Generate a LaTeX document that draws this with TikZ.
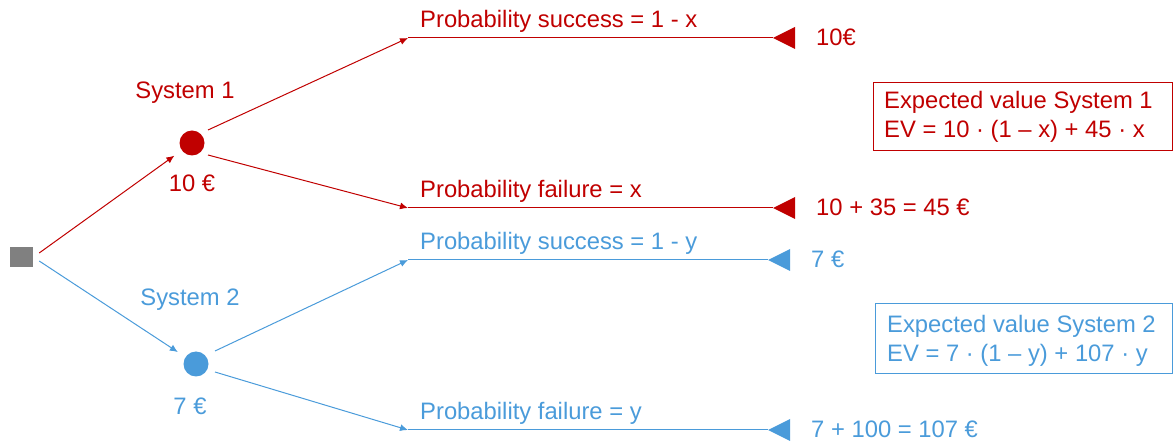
\documentclass[tikz,border=0pt]{standalone}
\usepackage{fontspec}
\setmainfont{Liberation Sans}
\usetikzlibrary{arrows.meta}
\definecolor{dred}{HTML}{C00000}
\definecolor{dblue}{HTML}{4A9BDA}
\definecolor{dgray}{HTML}{808080}
\tikzset{
  txt/.style={inner sep=0pt, font=\fontsize{23.8}{28}\selectfont},
  lbl/.style={txt, anchor=base west},
  branch/.style={line width=1pt, -{Latex[length=8pt,width=7pt]}},
  hline/.style={line width=1pt},
  chance/.style={circle, minimum size=25pt, inner sep=0pt},
  evbox/.style={draw, line width=1pt, minimum width=299pt, minimum height=68pt, anchor=north west, inner sep=0pt},
}
\newcommand{\payofftri}[2]{\fill[#2] (#1) -- ++(22pt,-11pt) -- ++(0,22pt) -- cycle;}
\begin{document}
\begin{tikzpicture}[x=1pt,y=-1pt]
\useasboundingbox (0,0) rectangle (1173,443);
% root
\node[fill=dgray, minimum width=23pt, minimum height=20pt, inner sep=0pt] (root) at (21.5,257) {};
% chance nodes
\node[chance, fill=dred] (c1) at (192,143) {};
\node[chance, fill=dblue] (c2) at (196,364) {};
\draw[branch, dred, shorten >=9pt] (root.east) ++(6,-4) coordinate (r1) (r1) -- (c1);
\draw[branch, dblue, shorten >=9pt] (root.east) ++(6,4) coordinate (r2) (r2) -- (c2);
% labels
\node[txt, text=dred] (s1) at (185,93) {System 1};
\node[txt, text=dred] (v1) at (192,183) {10 €};
\node[txt, text=dblue] (s2) at (190,300) {System 2};
\node[txt, text=dblue] (v2) at (190,406) {7 €};
% branch points
\coordinate (a1) at (408,38);
\coordinate (a2) at (408,208);
\coordinate (a3) at (408,260);
\coordinate (a4) at (408,430);
\coordinate (t1) at (773,38);
\coordinate (t2) at (773,208);
\coordinate (t3) at (768,260);
\coordinate (t4) at (768,430);
\draw[branch, dred] (c1) ++(16,-13) coordinate (b1) (b1) -- (a1);
\draw[branch, dred] (c1) ++(16,12) coordinate (b2) (b2) -- (a2);
\draw[branch, dblue] (c2) ++(19,-13) coordinate (b3) (b3) -- (a3);
\draw[branch, dblue] (c2) ++(19,8) coordinate (b4) (b4) -- (a4);
\draw[hline, dred] (a1) -- (t1);
\draw[hline, dred] (a2) -- (t2);
\draw[hline, dblue] (a3) -- (t3);
\draw[hline, dblue] (a4) -- (t4);
\payofftri{t1}{dred}
\payofftri{t2}{dred}
\payofftri{t3}{dblue}
\payofftri{t4}{dblue}
% branch labels
\node[lbl, text=dred] (l1) at (420,28) {Probability success = 1 - x};
\node[lbl, text=dred] (l2) at (420,198) {Probability failure = x};
\node[lbl, text=dblue] (l3) at (420,250) {Probability success = 1 - y};
\node[lbl, text=dblue] (l4) at (420,420) {Probability failure = y};
% payoffs
\node[lbl, text=dred] (p1) at (816,46) {10€};
\node[lbl, text=dred] (p2) at (816,216) {10 + 35 = 45 €};
\node[lbl, text=dblue] (p3) at (811,268) {7 €};
\node[lbl, text=dblue] (p4) at (811,438) {7 + 100 = 107 €};
% EV boxes
\node[evbox, draw=dred] (e1) at (873,82) {};
\node[txt, text=dred, anchor=base west] at (884,109) {Expected value System 1};
\node[txt, text=dred, anchor=base west] at (884,138) {EV = 10 · (1 – x) + 45 · x};
\node[evbox, draw=dblue, minimum width=297pt, minimum height=70pt] (e2) at (875,303) {};
\node[txt, text=dblue, anchor=base west] at (887,333) {Expected value System 2};
\node[txt, text=dblue, anchor=base west] at (887,362) {EV = 7 · (1 – y) + 107 · y};
\end{tikzpicture}
\end{document}
